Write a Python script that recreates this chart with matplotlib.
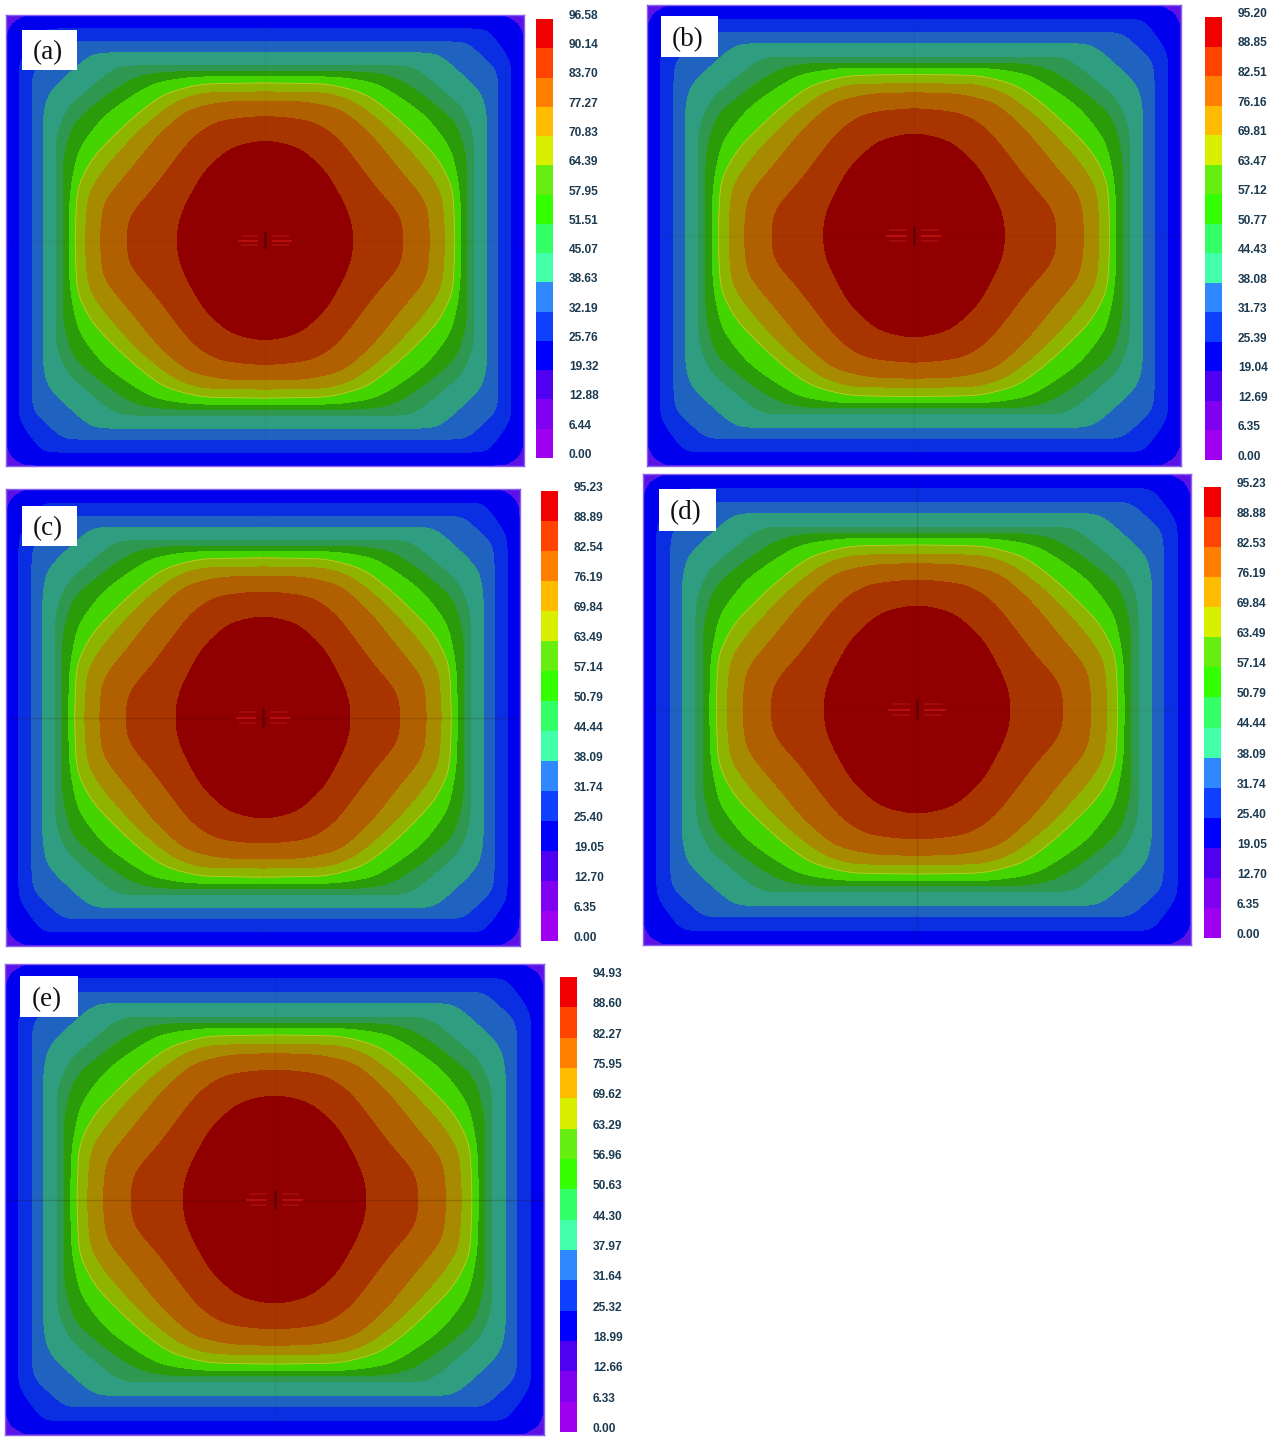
import numpy as np
import matplotlib
matplotlib.use("Agg")
import matplotlib.pyplot as plt
from matplotlib.colors import ListedColormap, BoundaryNorm
from matplotlib.patches import Rectangle

W, H = 1280, 1440

# ----------------------
# Legend values per case
# ----------------------
LEVELS_A = [0.00, 6.44, 12.88, 19.32, 25.76, 32.19, 38.63, 45.07, 51.51, 57.95, 64.39, 70.83, 77.27, 83.70, 90.14, 96.58]
LEVELS_B = [0.00, 6.35, 12.69, 19.04, 25.39, 31.73, 38.08, 44.43, 50.77, 57.12, 63.47, 69.81, 76.16, 82.51, 88.85, 95.20]
LEVELS_C = [0.00, 6.35, 12.70, 19.05, 25.40, 31.74, 38.09, 44.44, 50.79, 57.14, 63.49, 69.84, 76.19, 82.54, 88.89, 95.23]
LEVELS_D = [0.00, 6.35, 12.70, 19.05, 25.40, 31.74, 38.09, 44.44, 50.79, 57.14, 63.49, 69.84, 76.19, 82.53, 88.88, 95.23]
LEVELS_E = [0.00, 6.33, 12.66, 18.99, 25.32, 31.64, 37.97, 44.30, 50.63, 56.96, 63.29, 69.62, 75.95, 82.27, 88.60, 94.93]

# ----------------------
# Contour outlines, one quarter of the plate, top to side (half plate = 259 x 226)
# ----------------------
C19_X = [0, 240, 253, 258, 258]
C19_Y = [225, 225, 217, 206, 0]
C25_X = [0, 222, 238, 246, 246]
C25_Y = [212, 212, 191, 178, 0]
C32_X = [0, 202, 215, 232, 233, 233]
C32_Y = [199, 199, 186, 171, 150, 0]
C38_X = [0, 172, 192, 218, 222, 222]
C38_Y = [188, 188, 171, 146, 121, 0]
C45_X = [0, 148, 168, 198, 209, 209]
C45_Y = [175, 175, 158, 133, 104, 0]
C51_X = [0, 100, 128, 155, 192, 202, 202]
C51_Y = [169, 169, 165, 148, 118, 81, 0]
C58_X = [0, 72, 112, 140, 162, 187, 195, 196]
C58_Y = [164, 164, 158, 140, 124, 91, 48, 0]
C64_X = [0, 65, 102, 130, 145, 172, 188, 190]
C64_Y = [158, 157, 147, 125, 111, 84, 54, 0]
C71_X = [0, 65, 92, 125, 158, 177, 180]
C71_Y = [149, 148, 138, 111, 75, 48, 0]
C77_X = [0, 42, 78, 108, 135, 162, 165]
C77_Y = [140, 139, 131, 104, 70, 38, 0]
C84_X = [0, 48, 72, 92, 112, 135, 138, 138]
C84_Y = [125, 120, 104, 78, 51, 26, 14, 0]
C90_X = [0, 35, 62, 82, 88, 88]
C90_Y = [101, 93, 68, 31, 12, 0]

OUTLINES = [(C19_X, C19_Y), (C25_X, C25_Y), (C32_X, C32_Y), (C38_X, C38_Y), (C45_X, C45_Y), (C51_X, C51_Y),
            (C58_X, C58_Y), (C64_X, C64_Y), (C71_X, C71_Y), (C77_X, C77_Y), (C84_X, C84_Y), (C90_X, C90_Y)]
SOFTNESS = [3, 7, 8, 9, 10, 11, 11, 11, 11, 11, 11, 10]

PLATE_X = [0, 259, 259]
PLATE_Y = [226, 226, 0]

# Small mark at the plate centre
DASH_Y = [-5, 0, 5]
DASH_X0 = [7, 7, 7]
DASH_X1 = [24, 27, 24]
DASH_COLORS = ["#a81010", "#c81414", "#a81010"]
STEM_Y = [-9, 9]

# Colours: muted ones on the plate, bright ones on the legend
PLATE_COLORS = ["#5a12e6", "#0000ee", "#0a2fe2", "#1f62c0", "#2f9e80", "#2f9850", "#2a9c0a",
                "#44d400", "#8eb400", "#a88a00", "#b06000", "#a83400", "#900000"]
BAR_COLORS = ["#a000f0", "#8000f0", "#5000f0", "#0000ff", "#1040ff", "#3088ff", "#44ffaa", "#33ff66",
              "#33ff00", "#66ee11", "#d8f000", "#ffbb00", "#ff8000", "#ff4400", "#f00000"]

# Pixel boxes: plate, legend bar, tag; then faint centre line strengths
CASES = [
    ("(a)", LEVELS_A, (6, 524, 15, 466), (536, 553, 19, 458), (22, 77, 30, 70), 0.03, 0.03),
    ("(b)", LEVELS_B, (647, 1181, 5, 466), (1205, 1222, 17, 460), (661, 718, 16, 57), 0.05, 0.05),
    ("(c)", LEVELS_C, (6, 520, 489, 946), (541, 558, 491, 941), (22, 77, 506, 546), 0.16, 0.02),
    ("(d)", LEVELS_D, (643, 1191, 474, 945), (1204, 1221, 487, 938), (659, 716, 489, 531), 0.06, 0.14),
    ("(e)", LEVELS_E, (5, 544, 964, 1435), (560, 577, 977, 1432), (20, 78, 976, 1017), 0.20, 0.07),
]

N = 240


def closed_loop(xs, ys, soft):
    xs = np.asarray(xs, float)
    ys = np.asarray(ys, float)
    s = np.r_[0, np.cumsum(np.hypot(np.diff(xs), np.diff(ys)))]
    t = np.linspace(0, s[-1], N)
    qx = np.interp(t, s, xs)
    qy = np.interp(t, s, ys)
    lx = np.r_[qx, qx[::-1][1:], -qx[1:], -qx[::-1][1:-1]]
    ly = np.r_[qy, -qy[::-1][1:], -qy[1:], qy[::-1][1:-1]]
    if soft:
        sig = soft / (s[-1] / (N - 1))
        half = int(4 * sig) + 1
        k = np.exp(-0.5 * (np.arange(-half, half + 1) / sig) ** 2)
        k /= k.sum()
        lx = np.convolve(np.r_[lx[-half:], lx, lx[:half]], k, "valid")
        ly = np.convolve(np.r_[ly[-half:], ly, ly[:half]], k, "valid")
    return np.r_[lx, lx[0]], np.r_[ly, ly[0]]


def box_axes(fig, x0, x1, y0, y1):
    return fig.add_axes([x0 / W, 1 - y1 / H, (x1 - x0) / W, (y1 - y0) / H])


fig = plt.figure(figsize=(W / 100, H / 100), dpi=100, facecolor="white")

rows = [closed_loop(PLATE_X, PLATE_Y, 0)] + [closed_loop(o[0], o[1], s) for o, s in zip(OUTLINES, SOFTNESS)]
X = np.array([r[0] for r in rows] + [np.zeros_like(rows[0][0])])
Y = np.array([r[1] for r in rows] + [np.zeros_like(rows[0][1])])

for tag, levels, plate, bar, box, h_line, v_line in CASES:
    # Plate
    ax = box_axes(fig, *plate)
    Z = np.repeat(np.array(levels[2:])[:, None], X.shape[1], axis=1)
    ax.contourf(X, Y, Z, levels=levels[2:], colors=PLATE_COLORS)
    ax.contour(X, Y, Z, levels=[levels[10]], colors="#b4d030", linewidths=0.6)
    ax.axhline(0, color="#301000", alpha=h_line, lw=1)
    ax.axvline(0, color="#301000", alpha=v_line, lw=1)
    for y, a, b, c in zip(DASH_Y, DASH_X0, DASH_X1, DASH_COLORS):
        ax.hlines([y, y], [-b, a], [-a, b], colors=c, lw=1.3, alpha=0.8)
    ax.vlines(0, STEM_Y[0], STEM_Y[1], colors="#500000", lw=1.8, alpha=0.7)
    ax.set_xlim(-259, 259)
    ax.set_ylim(-226, 226)
    ax.set_xticks([])
    ax.set_yticks([])
    for sp in ax.spines.values():
        sp.set_color("#8a60f0")
        sp.set_linewidth(1.0)

    # Legend bar
    cax = box_axes(fig, *bar)
    cmap = ListedColormap(BAR_COLORS)
    norm = BoundaryNorm(levels, cmap.N)
    mids = (np.array(levels[:-1]) + np.array(levels[1:])) / 2
    cax.pcolormesh([0, 1], levels, mids[:, None], cmap=cmap, norm=norm)
    cax.set_ylim(levels[0], levels[-1])
    cax.axis("off")
    for v in levels:
        cax.annotate(f"{v:.2f}", (1, v), xycoords=("axes fraction", "data"), xytext=(11.5, 2.2),
                     textcoords="offset points", va="center", ha="left", family="Liberation Sans",
                     fontweight="bold", fontsize=8.6, color="#1c3a50", annotation_clip=False)

    # Case tag
    x0, x1, y0, y1 = box
    fig.add_artist(Rectangle((x0 / W, 1 - y1 / H), (x1 - x0) / W, (y1 - y0) / H,
                             transform=fig.transFigure, facecolor="white", edgecolor="none", zorder=5))
    fig.text((x0 + x1) / 2 / W - 2 / W, 1 - ((y0 + y1) / 2 + 3) / H, tag, family="Liberation Serif", fontsize=19.5,
             ha="center", va="center", color="#111111", zorder=6)

fig.savefig("out.png", dpi=100)
